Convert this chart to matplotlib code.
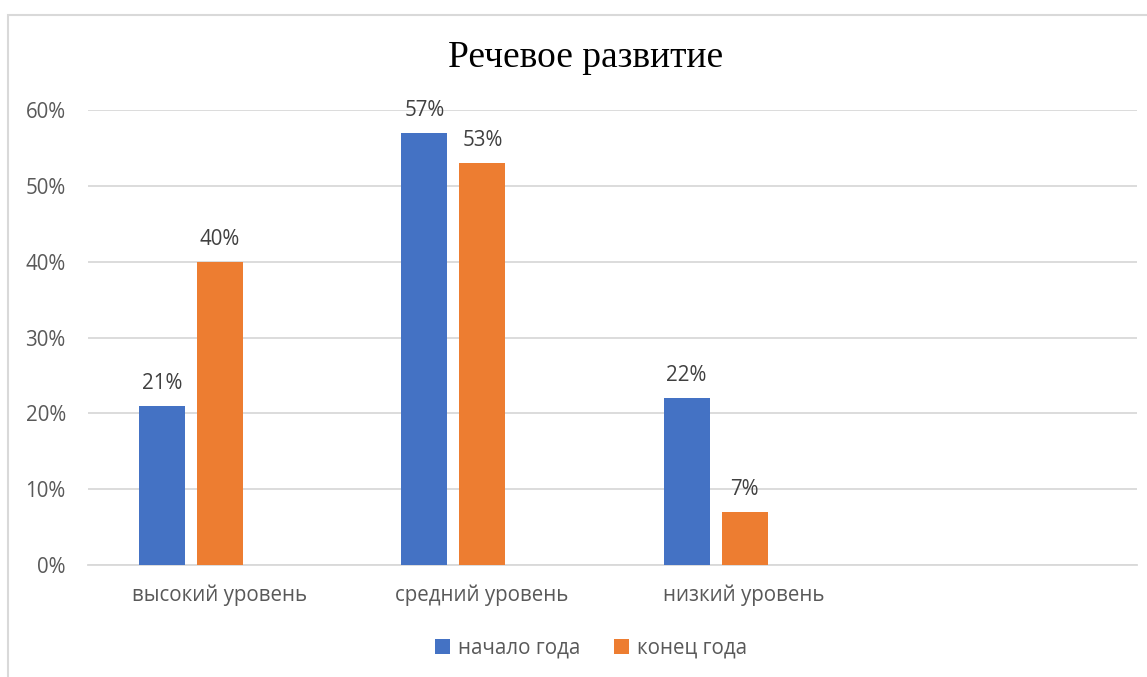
import numpy as np
import matplotlib.pyplot as plt
from matplotlib.patches import Rectangle

title = "Речевое развитие"
categories = ["высокий уровень", "средний уровень", "низкий уровень", ""]
series_names = ["начало года", "конец года"]
start_year = [0.21, 0.57, 0.22]
end_year = [0.40, 0.53, 0.07]
yticks = [0, 0.1, 0.2, 0.3, 0.4, 0.5, 0.6]

blue = "#4472C4"
orange = "#ED7D31"
grid_c = "#D9D9D9"
text_c = "#595959"

plt.rcParams['font.family'] = ['Open Sans', 'DejaVu Sans']

fig = plt.figure(figsize=(11.47, 6.77), dpi=100)
ax = fig.add_axes([88 / 1147, 112 / 677, (1137 - 88) / 1147, (565 - 110) / 677])

# chart border (runs off the right and bottom edges)
fig.patches.append(Rectangle((8 / 1147, -0.1), 1.2, 1 - 15 / 677 + 0.1,
                             transform=fig.transFigure, fill=False,
                             edgecolor=grid_c, linewidth=1.5))

slot = 1049 / 4
w = 46 / slot
step = 58 / slot
x = np.arange(len(start_year))

b1 = ax.bar(x - step + 1 / slot, start_year, w, color=blue, label=series_names[0], zorder=3)
b2 = ax.bar(x + 1 / slot, end_year, w, color=orange, label=series_names[1], zorder=3)

for bars in (b1, b2):
    for r in bars:
        ax.annotate(f"{r.get_height() * 100:.0f}%",
                    (r.get_x() + r.get_width() / 2, r.get_height()),
                    xytext=(0, 8.5), textcoords="offset points",
                    ha="center", va="bottom", fontsize=14.8, color="#404040")

ax.set_xlim(-0.5, 3.5)
ax.set_ylim(0, 0.6)
ax.set_xticks(np.arange(4))
ax.set_xticklabels(categories)
ax.set_yticks(yticks)
ax.set_yticklabels([f"{int(round(t * 100))}%" for t in yticks])
ax.tick_params(axis="both", length=0, labelsize=14.8, colors=text_c)
ax.tick_params(axis="y", pad=16)
ax.tick_params(axis="x", pad=14)
ax.yaxis.grid(True, color=grid_c, linewidth=1.3, zorder=0)
for s in ["top", "right", "left"]:
    ax.spines[s].set_visible(False)
ax.spines["bottom"].set_color(grid_c)
ax.spines["bottom"].set_linewidth(1.3)
ax.spines["bottom"].set_zorder(1)

fig.text(586 / 1147, 1 - 58 / 677, title, family="Liberation Serif",
         fontsize=27, ha="center", va="center", color="#000000")

fig.legend(loc="center", bbox_to_anchor=(591 / 1147, 1 - 648 / 677), ncol=2,
           frameon=False, fontsize=14.8, labelcolor=text_c,
           handlelength=0.75, handleheight=0.75, handletextpad=0.4,
           columnspacing=1.6)

fig.savefig("out.png", dpi=100)
